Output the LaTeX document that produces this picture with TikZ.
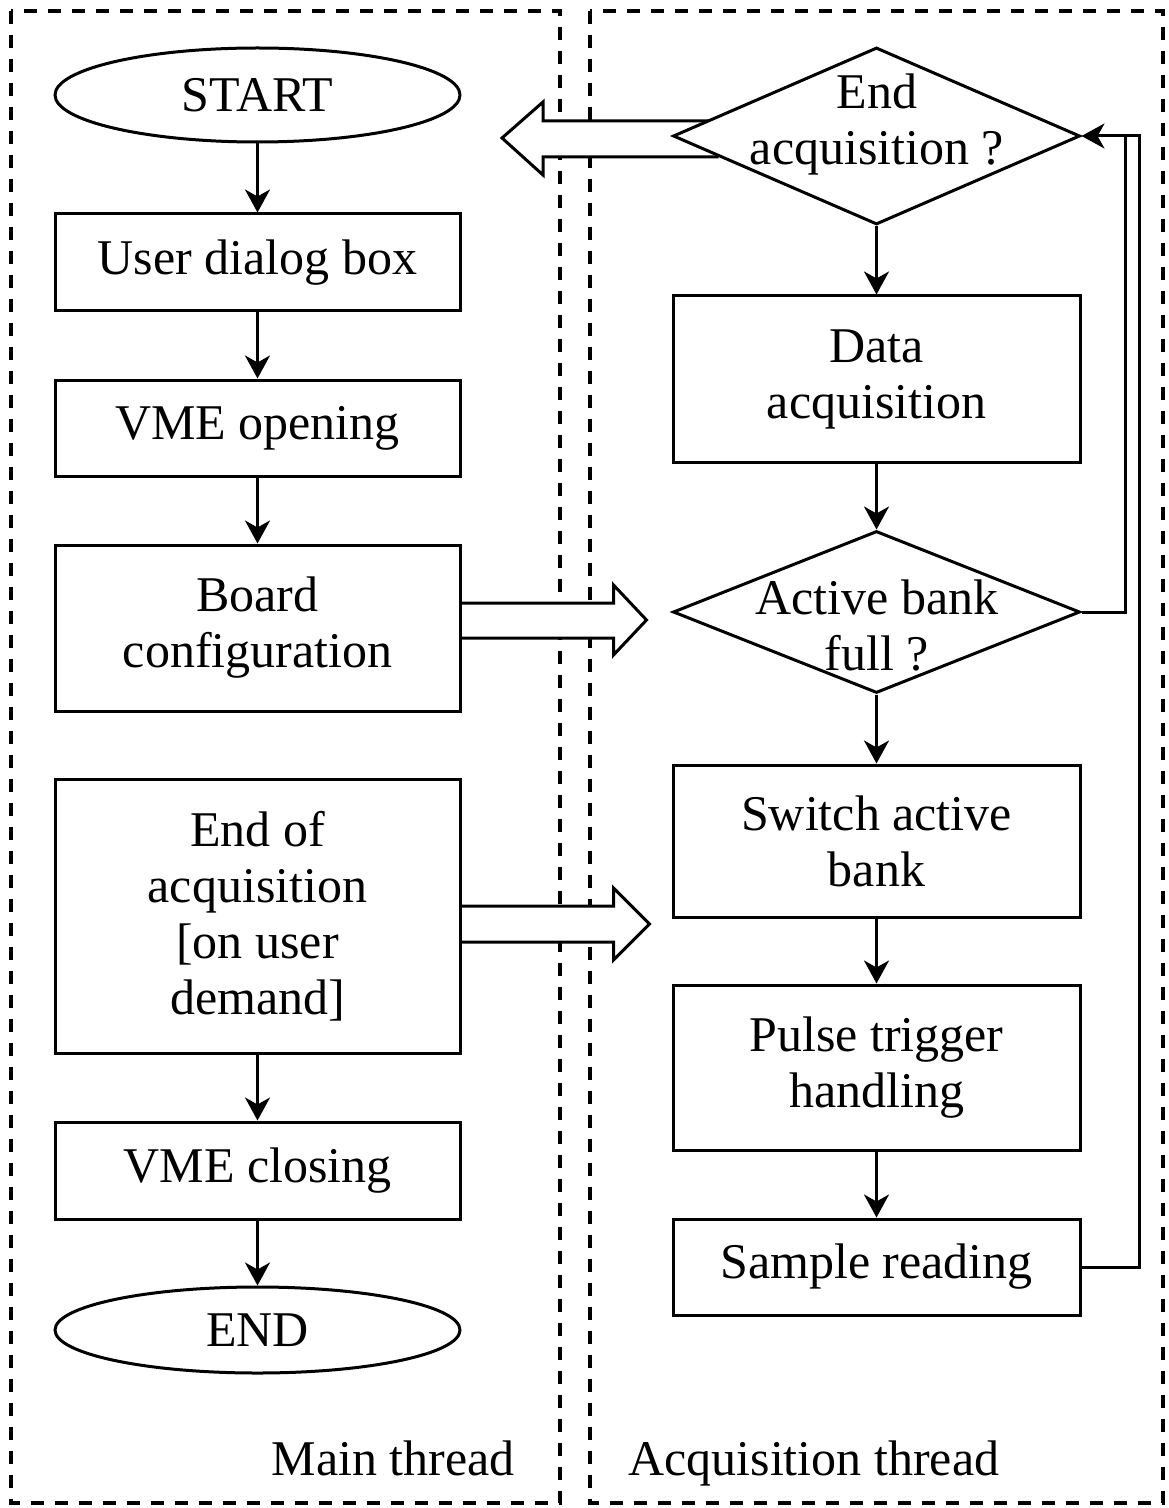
\documentclass[tikz,border=0pt]{standalone}
\usepackage{fontspec}
\setmainfont{Liberation Serif}
\usetikzlibrary{shapes.geometric,arrows.meta,calc}
\pgfdeclarelayer{panels}
\pgfdeclarelayer{bigarrows}
\pgfsetlayers{panels,bigarrows,main}

\tikzset{
  every node/.style={font=\fontsize{25}{28}\selectfont, align=center},
  box/.style={draw, line width=1.5pt, fill=white, minimum width=202.5pt, inner sep=0pt},
  term/.style={draw, ellipse, line width=1.5pt, fill=white, minimum width=202.5pt, inner sep=0pt},
  decision/.style={draw, diamond, line width=1.5pt, fill=white, minimum width=203.5pt, inner sep=0pt},
  flow/.style={line width=1.5pt, -{Stealth[length=11.5pt,width=12.5pt,inset=3.5pt]}},
  hollow/.style={draw, line width=1.5pt, fill=white, line join=miter},
  panel/.style={draw, line width=1.8pt, dash pattern=on 6.5pt off 5.5pt},
  threadlabel/.style={inner sep=0pt},
}

\begin{document}
\begin{tikzpicture}[x=0.5pt, y=-0.5pt]
\useasboundingbox (0,0) rectangle (1168,1508);

% thread panels
\begin{pgfonlayer}{panels}
  \draw[panel] (11,11) rectangle (560,1503);
  \draw[panel] (590,11) rectangle (1163,1503);
\end{pgfonlayer}
\node[threadlabel, anchor=base east] (mainlbl) at (515,1475) {Main thread};
\node[threadlabel, anchor=base west] (acqlbl) at (628,1475) {Acquisition thread};

% main thread
\node[term, minimum height=47pt] (start) at (257.5,95) {START};
\node[box, minimum height=48.5pt] (dialog) at (257.5,262.5) {User dialog box};
\node[box, minimum height=48pt] (vmeopen) at (257.5,428) {VME opening};
\node[box, minimum height=83pt] (board) at (257.5,628) {Board\\configuration};
\node[box, minimum height=137pt] (stop) at (257.5,916) {End of\\acquisition\\{[on user}\\demand]};
\node[box, minimum height=48.5pt] (vmeclose) at (257.5,1170.5) {VME closing};
\node[term, minimum height=43pt] (finish) at (257.5,1330) {END};

\draw[flow] (start) -- (dialog);
\draw[flow] (dialog) -- (vmeopen);
\draw[flow] (vmeopen) -- (board);
\draw[flow] (stop) -- (vmeclose);
\draw[flow] (vmeclose) -- (finish);

% acquisition thread
\node[decision, minimum height=88.5pt] (q1) at (876.5,136) {};
\node (q1t) at (877,124) {End\\acquisition ?};
\node[box, minimum width=203.5pt, minimum height=83pt] (acq) at (876.5,379) {Data\\acquisition};
\node[decision, minimum height=81pt] (q2) at (876.5,612) {};
\node (q2t) at (877,626) {Active bank\\full ?};
\node[box, minimum width=203.5pt, minimum height=76pt] (switch) at (876.5,841) {Switch active\\bank};
\node[box, minimum width=203.5pt, minimum height=82.5pt] (pulse) at (876.5,1067.5) {Pulse trigger\\handling};
\node[box, minimum width=203.5pt, minimum height=48pt] (sample) at (876.5,1267) {Sample reading};

\draw[flow] (q1) -- (acq);
\draw[flow] (acq) -- (q2);
\draw[flow] (q2) -- (switch);
\draw[flow] (switch) -- (pulse);
\draw[flow] (pulse) -- (sample);

% loops back to the end test
\draw[flow] (q2.east) -- ++(44,0) |- (q1.east);
\draw[line width=1.5pt] (sample.east) -| ($(q1.east)+(58,0)$) -- ($(q1.east)+(44,0)$);

% thread-to-thread signals
\coordinate (exitpt) at (502,138);
\begin{pgfonlayer}{bigarrows}
  \path[hollow] ($(q1.west)+(47,-15)$) -- (543,121) -- (543,102) -- (exitpt)
    -- (543,175) -- (543,157) -- ($(q1.west)+(47,21)$);
  \path[hollow] ($(board.east)+(0,-25)$) -- ++(152,0) -- ++(0,-18) -- ($(q2.west)+(-25,8)$)
    -- ($(board.east)+(152,27)$) -- ++(0,-17) -- ($(board.east)+(0,10)$);
  \path[hollow] ($(stop.east)+(0,-10)$) -- ++(152,0) -- ++(0,-18) -- ($(stop.east)+(188,8)$)
    -- ($(stop.east)+(152,44)$) -- ++(0,-18) -- ($(stop.east)+(0,26)$);
\end{pgfonlayer}
\end{tikzpicture}
\end{document}
